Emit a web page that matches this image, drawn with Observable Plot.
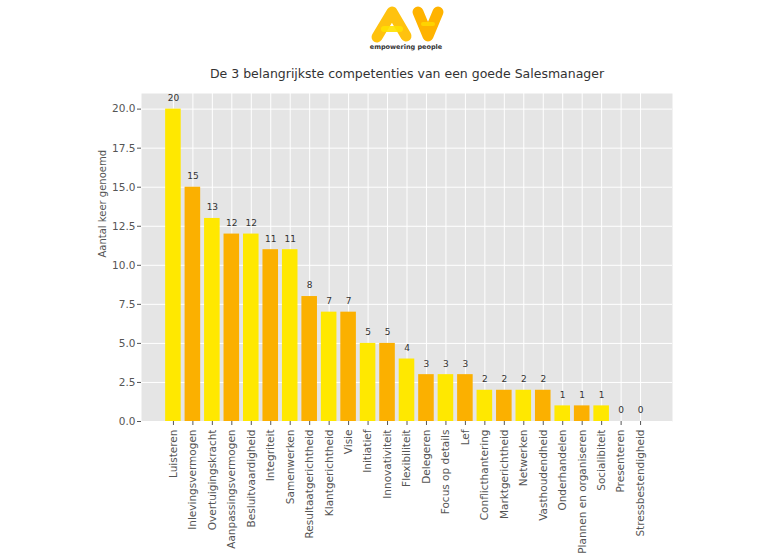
<!DOCTYPE html>
<html><head><meta charset="utf-8">
<script src="https://cdn.jsdelivr.net/npm/d3@7"></script>
<script src="https://cdn.jsdelivr.net/npm/@observablehq/plot@0.6"></script>
<style>
body{margin:0;background:#fff;font-family:"DejaVu Sans";}
#wrap{position:relative;width:768px;height:558px;}
#logo{position:absolute;left:0;top:0;}
#chart{position:absolute;left:0;top:0;}
</style>
</head><body>
<div id="wrap">
<div id="chart"></div>
<svg id="logo" width="768" height="56" viewBox="0 0 768 56">
  <g fill="none" stroke-linecap="round" stroke-linejoin="round">
    <polyline points="377,37 392,12 406,36" stroke="#FFC20E" stroke-width="11"/>
    <line x1="384" y1="29" x2="400" y2="29" stroke="#FFE100" stroke-width="6" opacity="0.9"/>
    <polyline points="418,12 428,36 438,12" stroke="#FFB300" stroke-width="11"/>
    <line x1="423" y1="24" x2="433" y2="24" stroke="#FFE100" stroke-width="4" opacity="0.7"/>
  </g>
  <text x="406" y="49" text-anchor="middle" font-family="DejaVu Sans" font-size="6.5" font-weight="bold" fill="#333">empowering people</text>
</svg>
</div>
<script>
const categories = ["Luisteren","Inlevingsvermogen","Overtuigingskracht","Aanpassingsvermogen","Besluitvaardigheid","Integriteit","Samenwerken","Resultaatgerichtheid","Klantgerichtheid","Visie","Initiatief","Innovativiteit","Flexibiliteit","Delegeren","Focus op details","Lef","Conflicthantering","Marktgerichtheid","Netwerken","Vasthoudendheid","Onderhandelen","Plannen en organiseren","Socialibiteit","Presenteren","Stressbestendigheid"];
const counts = [20,15,13,12,12,11,11,8,7,7,5,5,4,3,3,3,2,2,2,2,1,1,1,0,0];
const shades = ["geel","oranje"];
const shadeColors = ["#FFE800","#FBB000"];
const yTicks = [0,2.5,5,7.5,10,12.5,15,17.5,20];
const title = "De 3 belangrijkste competenties van een goede Salesmanager";
const yLabel = "Aantal keer genoemd";

const data = categories.map((c,i)=>({name:c,count:counts[i],shade:shades[i%2]}));

const chart = Plot.plot({
  width:768, height:558,
  marginLeft:141, marginRight:96, marginTop:93, marginBottom:137,
  style:{fontFamily:"DejaVu Sans", fontSize:"10px", background:"transparent", color:"#555"},
  x:{domain:categories, paddingInner:0.2, paddingOuter:1.24, round:false, label:null},
  y:{domain:[0,21], label:null},
  color:{domain:shades, range:shadeColors},
  marks:[
    Plot.frame({fill:"#E5E5E5", stroke:null}),
    Plot.gridY(yTicks,{stroke:"white", strokeOpacity:1, strokeWidth:1}),
    Plot.gridX({stroke:"white", strokeOpacity:1, strokeWidth:1}),
    Plot.barY(data,{x:"name", y:"count", fill:"shade"}),
    Plot.text(data,{x:"name", y:"count", text:d=>String(d.count), dy:-11, fill:"#333", fontSize:9}),
    Plot.axisY(yTicks,{tickFormat:d=>d.toFixed(1), tickSize:4, tickPadding:2, stroke:"#555", fill:"#555", fontSize:10.5, label:null}),
    Plot.axisX({tickRotate:-90, tickSize:4, tickPadding:4, stroke:"#555", fill:"#555", fontSize:10.5, label:null}),
    Plot.text([yLabel],{frameAnchor:"left", rotate:-90, dx:-39, fill:"#555", fontSize:10}),
    Plot.text([title],{frameAnchor:"top", lineAnchor:"middle", dy:-20, fill:"#333", fontSize:12.5})
  ]
});
document.getElementById("chart").appendChild(chart);
</script>
</body></html>
